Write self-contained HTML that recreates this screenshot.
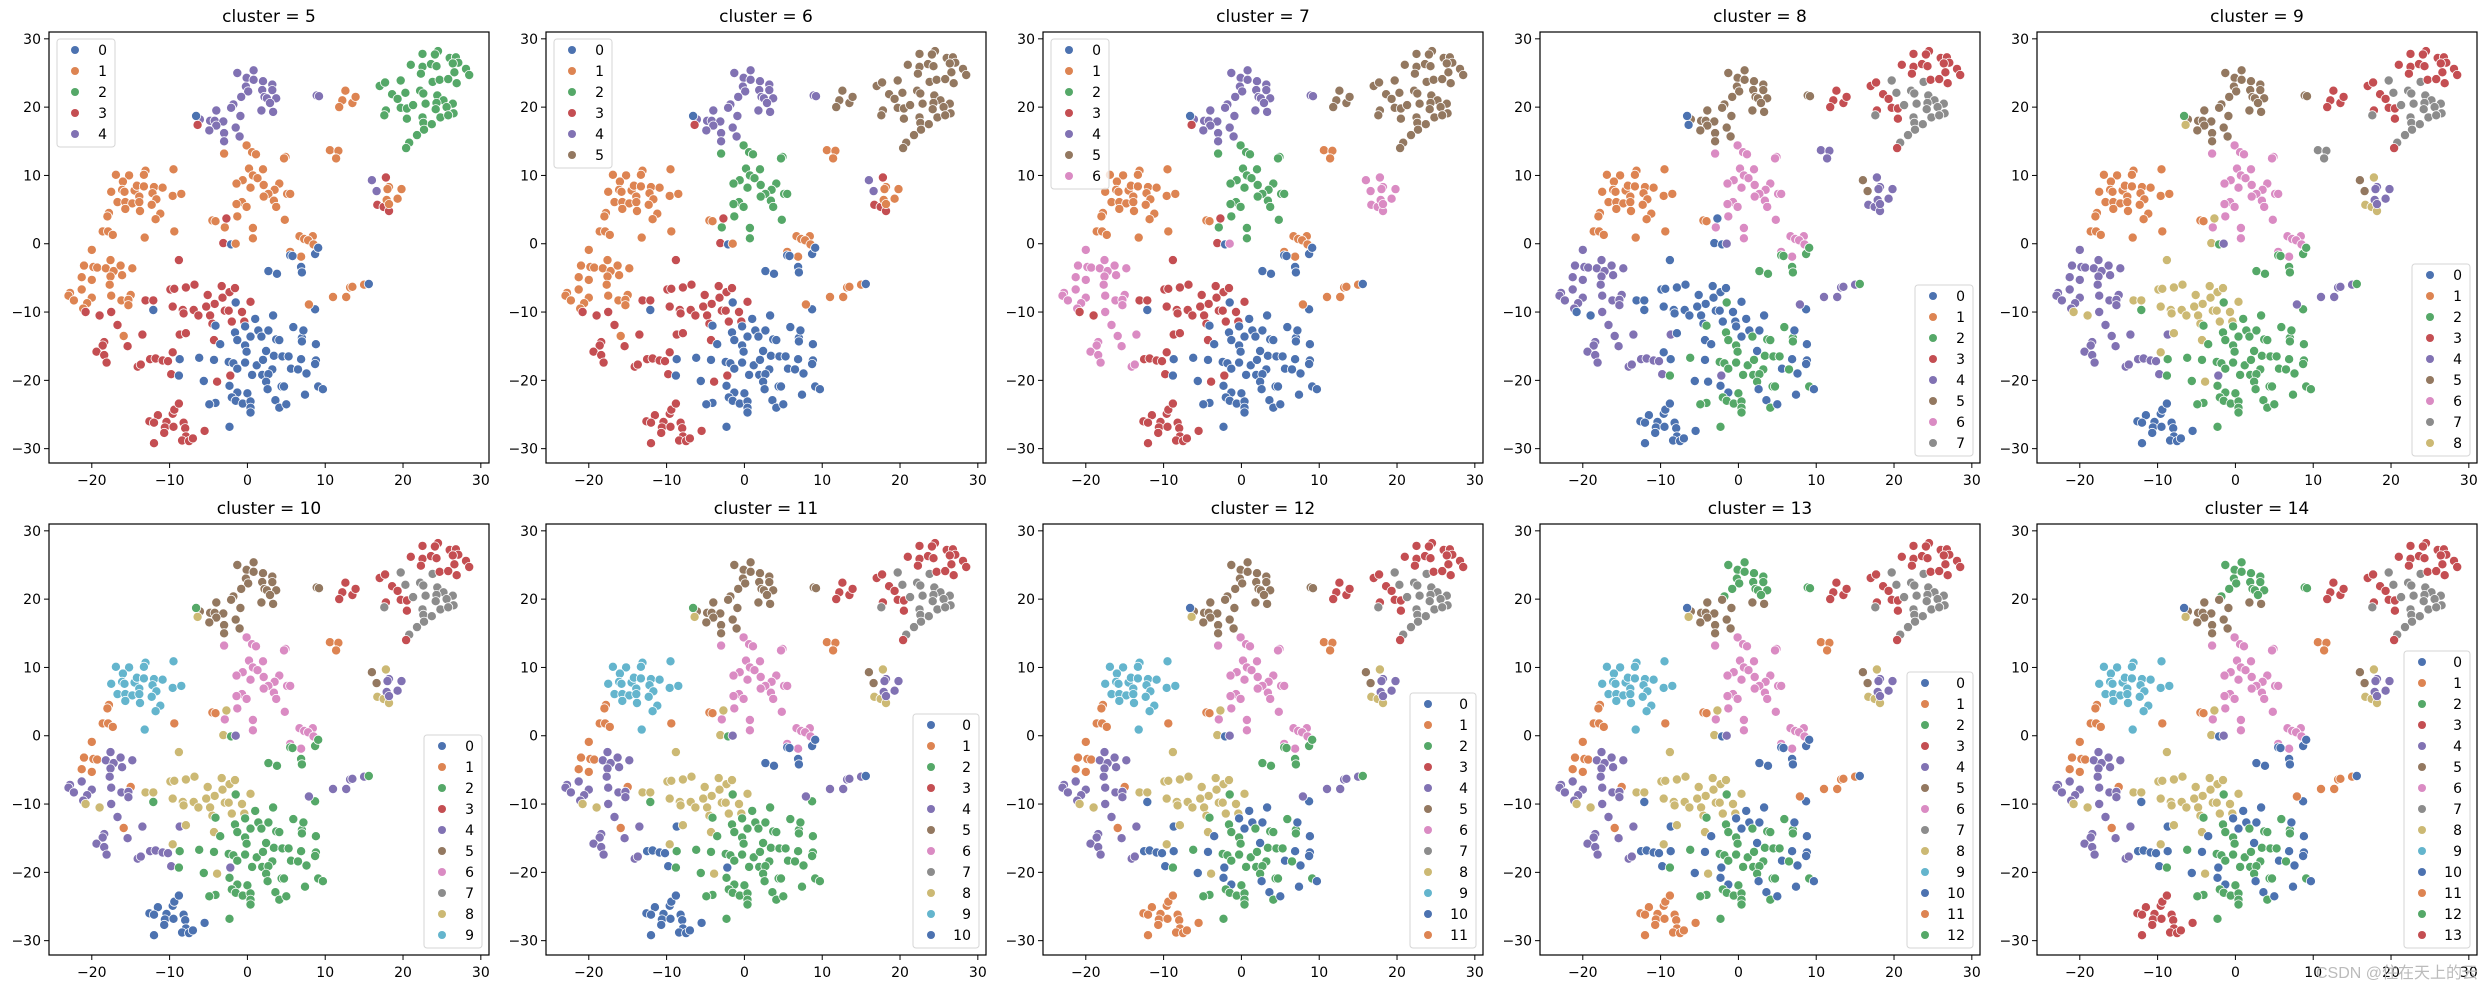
<!DOCTYPE html>
<html><head><meta charset="utf-8"><style>
html,body{margin:0;padding:0;background:#fff;}
svg{display:block;font-family:"DejaVu Sans","Liberation Sans",sans-serif;}
</style></head><body>
<svg id="fig" width="2488" height="989" viewBox="0 0 2488 989" xmlns="http://www.w3.org/2000/svg"></svg>
<script>
// ---- data ----
const clusterCounts = [5,6,7,8,9,10,11,12,13,14];
const xTicks = [-20,-10,0,10,20,30];
const yTicks = [-30,-20,-10,0,10,20,30];
const palette = ['#4c72b0','#dd8452','#55a868','#c44e52','#8172b3','#937860','#da8bc3','#8c8c8c','#ccb974','#64b5cd'];
// region -> cluster id for k = 5..14
const regionLabels = {
 TRr:[2,5,5,3,3,3,3,3,3,3], TRg:[2,5,5,7,7,7,7,7,7,7], B:[1,5,5,3,3,3,3,3,3,3],
 Cg:[4,4,4,5,5,5,5,5,2,2], Cb:[4,4,4,5,5,5,5,5,5,5], D:[1,2,2,6,6,6,6,6,6,6], D2:[1,1,1,6,6,6,6,6,6,6],
 E:[1,1,1,1,1,9,9,9,9,9], Fo1:[1,1,1,1,1,1,1,1,1,1], Fo2:[1,1,6,4,4,1,1,1,1,1],
 Fp:[1,1,6,4,4,4,4,4,4,4], Fq:[3,3,6,4,4,4,4,4,4,4], G:[3,3,3,0,8,8,8,8,8,8],
 Hb:[0,0,0,0,2,2,2,10,10,10], Hg:[0,0,0,2,2,2,2,2,12,12], I:[3,3,3,0,0,0,10,11,11,13],
 K:[0,0,0,2,2,2,10,2,10,10], M:[3,3,3,4,4,4,10,10,10,10], J1:[4,4,6,5,5,5,5,5,5,5],
 J2:[3,3,6,4,8,8,8,8,8,8], J3:[1,1,6,4,4,4,4,4,4,4], L:[1,1,1,4,4,4,4,4,11,11], N:[1,1,1,4,7,1,1,1,1,1]
};
const pointsX = [];
const pointsY = [];
const pointsRegion = [];
const raw = [
// top-right
[22.5,27.8,'TRr'],[24.5,28.2,'TRr'],[24.1,27.7,'TRr'],[26.0,27.2,'TRr'],[26.8,27.3,'TRr'],[27.1,26.5,'TRr'],[26.4,26.4,'TRr'],[28.1,25.6,'TRr'],[28.5,24.7,'TRr'],[21.0,26.2,'TRr'],[22.5,25.9,'TRr'],[23.6,26.3,'TRr'],[24.3,26.0,'TRr'],[22.3,24.9,'TRr'],[26.6,25.1,'TRr'],[23.8,23.7,'TRg'],[24.7,24.0,'TRr'],[25.8,24.1,'TRr'],[26.9,23.5,'TRr'],[17.0,23.1,'TRr'],[17.7,23.6,'TRr'],[19.7,23.9,'TRg'],[18.6,21.9,'TRr'],[19.3,21.2,'TRr'],[20.3,22.1,'TRg'],[22.2,22.4,'TRg'],[22.6,22.0,'TRg'],[24.4,21.7,'TRg'],[25.2,21.0,'TRg'],[26.4,20.5,'TRg'],[22.9,20.5,'TRg'],[24.3,20.6,'TRg'],[17.8,19.5,'TRr'],[17.6,18.8,'TRg'],[19.7,19.9,'TRr'],[20.5,19.8,'TRr'],[21.3,20.3,'TRg'],[24.2,19.7,'TRg'],[25.6,20.0,'TRg'],[26.5,19.1,'TRg'],[22.5,18.5,'TRg'],[24.8,18.5,'TRg'],[25.8,18.8,'TRg'],[20.5,18.3,'TRr'],[22.6,17.7,'TRg'],[23.7,17.5,'TRg'],[22.7,16.7,'TRg'],[21.8,15.9,'TRg'],[20.8,14.8,'TRg'],[20.4,14.0,'TRr'],
[12.6,22.4,'B'],[12.2,21.0,'B'],[11.8,20.0,'B'],[13.5,20.6,'B'],[13.9,21.5,'B'],[8.9,21.7,'Cg'],[9.2,21.6,'Cg'],
// top purple
[-1.3,25.0,'Cg'],[0.8,25.4,'Cg'],[-0.1,24.3,'Cg'],[0.8,24.0,'Cg'],[-0.2,23.0,'Cg'],[0.1,22.3,'Cg'],[2.0,23.8,'Cg'],[3.2,23.3,'Cg'],[1.9,22.5,'Cg'],[3.2,22.5,'Cg'],[2.2,21.5,'Cg'],[2.5,21.3,'Cg'],[3.7,21.3,'Cg'],[2.9,20.6,'Cg'],[-0.8,21.5,'Cg'],[-1.8,20.4,'Cg'],[-2.1,19.9,'Cb'],[-4.0,19.5,'Cb'],[1.8,19.5,'Cb'],[3.3,19.3,'Cb'],[-0.9,18.7,'Cb'],[-4.8,18.0,'Cb'],[-4.2,18.0,'Cb'],[-3.1,17.9,'Cb'],[-4.0,17.3,'Cb'],[-1.5,17.0,'Cb'],[-4.9,16.6,'Cb'],[-3.0,16.2,'Cb'],[-1.0,15.7,'Cb'],[-3.0,15.0,'Cb'],[-6.1,18.2,'Cb'],[-6.6,18.7,'Hb'],[-6.4,17.4,'G'],
// pink mid
[-0.1,14.4,'D'],[0.6,13.4,'D'],[-3.0,13.2,'D'],[1.1,13.1,'D'],[4.9,12.7,'D'],[4.7,12.5,'D'],[0.2,11.0,'D'],[2.0,10.9,'D'],[0.7,10.0,'D'],[-0.6,9.3,'D'],[1.3,9.6,'D'],[-1.4,8.8,'D'],[4.1,8.8,'D'],[2.1,8.6,'D'],[0.4,8.2,'D'],[3.5,7.9,'D'],[5.1,7.3,'D'],[5.5,7.3,'D'],[2.7,7.3,'D'],[2.1,6.9,'D'],[3.4,6.3,'D'],[3.7,5.4,'D'],[-0.7,6.1,'D'],[-1.4,5.8,'D'],[-0.1,5.4,'D'],[4.8,3.5,'D'],[0.7,2.3,'D'],[-1.3,4.0,'D'],[-2.9,2.4,'D'],[0.7,0.8,'D'],
[6.7,1.1,'D2'],[7.3,0.7,'D2'],[8.4,1.1,'D2'],[7.8,0.5,'D2'],[8.5,-0.1,'D2'],[5.5,-1.2,'D2'],[6.9,-1.9,'D2'],
[-4.5,3.4,'Fo1'],[-4.1,3.3,'Fo1'],[-2.7,3.7,'G'],[-3.1,0.1,'G'],[-2.1,-0.1,'Hb'],[-1.5,0.0,'Fp'],
// cyan group
[-16.9,10.1,'E'],[-15.2,10.0,'E'],[-13.1,10.7,'E'],[-13.3,10.1,'E'],[-16.0,9.1,'E'],[-17.5,7.6,'E'],[-16.1,7.9,'E'],[-15.8,7.6,'E'],[-14.5,7.8,'E'],[-14.2,8.5,'E'],[-13.3,8.4,'E'],[-12.0,8.3,'E'],[-10.9,8.2,'E'],[-12.2,7.4,'E'],[-11.7,6.5,'E'],[-13.9,6.9,'E'],[-16.7,6.1,'E'],[-15.7,6.1,'E'],[-14.8,5.9,'E'],[-13.9,6.1,'E'],[-12.3,5.7,'E'],[-15.7,5.1,'E'],[-13.8,4.8,'E'],[-11.2,4.4,'E'],[-11.8,3.6,'E'],[-9.5,10.9,'E'],[-9.6,7.0,'E'],[-8.5,7.3,'E'],[-13.2,0.9,'E'],
// far-left
[-17.8,4.5,'Fo1'],[-18.0,4.0,'Fo1'],[-18.6,1.8,'Fo1'],[-17.9,1.8,'Fo1'],[-17.3,1.3,'Fo1'],[-9.4,1.8,'Fo1'],[-20.0,-0.9,'Fo2'],[-21.0,-3.2,'Fo2'],[-19.8,-3.4,'Fo2'],[-19.3,-3.5,'Fo2'],[-21.3,-4.9,'Fo2'],[-20.0,-5.3,'Fo2'],[-15.0,-7.5,'Fo2'],[-15.9,-13.5,'Fo2'],
[-22.8,-7.2,'Fp'],[-23.0,-7.6,'Fp'],[-22.3,-8.3,'Fp'],[-21.3,-6.7,'Fp'],[-20.0,-7.9,'Fp'],[-20.6,-8.7,'Fp'],[-21.1,-9.5,'Fp'],[-17.6,-2.4,'Fp'],[-18.2,-3.6,'Fp'],[-17.2,-4.0,'Fp'],[-16.3,-3.2,'Fp'],[-16.1,-4.6,'Fp'],[-14.8,-3.6,'Fp'],[-17.6,-4.8,'Fp'],[-17.7,-6.0,'Fp'],[-17.5,-7.6,'Fp'],[-16.2,-8.3,'Fp'],[-15.3,-8.2,'Fp'],[-15.3,-9.0,'Fp'],[-17.5,-10.0,'Fq'],[-16.7,-11.9,'Fq'],[-18.4,-14.4,'Fq'],[-18.6,-14.9,'Fq'],[-19.4,-15.8,'Fq'],[-18.4,-16.3,'Fq'],[-18.1,-17.4,'Fq'],[-15.4,-15.0,'Fq'],[-13.5,-13.3,'Fq'],[-14.1,-18.0,'Fq'],[-13.7,-17.7,'Fq'],
[-12.5,-16.9,'M'],[-11.8,-16.8,'M'],[-10.9,-17.1,'M'],[-10.2,-17.2,'M'],[-9.8,-19.1,'M'],[-8.7,-13.3,'M'],[-2.2,-19.3,'M'],
// yellow middle
[-8.8,-2.4,'G'],[-9.9,-6.7,'G'],[-9.4,-6.6,'G'],[-7.9,-6.4,'G'],[-6.8,-6.0,'G'],[-13.1,-8.3,'G'],[-12.1,-8.3,'G'],[-9.6,-9.2,'G'],[-8.3,-9.7,'G'],[-8.2,-10.2,'G'],[-6.9,-9.7,'G'],[-6.3,-10.5,'G'],[-5.1,-7.5,'G'],[-3.3,-6.2,'G'],[-2.3,-7.1,'G'],[-1.6,-6.5,'G'],[-3.2,-7.9,'G'],[-4.2,-8.8,'G'],[-5.3,-9.2,'G'],[-4.8,-10.5,'G'],[-4.5,-11.7,'G'],[-2.9,-9.8,'G'],[-2.4,-9.8,'G'],[-2.0,-11.4,'G'],[-0.7,-10.0,'G'],[-0.4,-11.4,'G'],[0.4,-8.5,'G'],[-7.9,-13.1,'G'],[-4.3,-14.1,'G'],[-9.6,-15.9,'G'],[-3.9,-20.2,'G'],[-20.8,-10.0,'G'],[-19.0,-10.5,'G'],
// lower green/blue
[-1.5,-8.6,'Hg'],[-12.1,-9.7,'Hb'],[-4.1,-12.0,'Hg'],[-1.6,-13.0,'Hg'],[-1.3,-14.1,'Hg'],[-0.3,-12.1,'Hb'],[1.0,-11.0,'Hb'],[3.3,-10.5,'Hb'],[1.4,-12.7,'Hb'],[2.7,-12.7,'Hb'],[0.4,-13.6,'Hb'],[1.8,-13.6,'Hg'],[-0.3,-14.9,'Hg'],[-0.1,-15.8,'Hg'],[-3.5,-14.7,'Hb'],[-6.2,-16.7,'Hg'],[-4.3,-17.0,'Hb'],[-8.7,-16.9,'Hb'],[-8.8,-19.3,'Hg'],[-2.4,-17.3,'Hg'],[-1.8,-17.5,'Hg'],[-1.3,-18.3,'Hg'],[-0.3,-17.4,'Hg'],[1.2,-17.8,'Hg'],[2.0,-17.0,'Hg'],[2.4,-15.7,'Hb'],[3.4,-16.4,'Hg'],[4.5,-16.5,'Hg'],[5.3,-16.5,'Hg'],[3.2,-18.4,'Hg'],[5.6,-18.3,'Hb'],[6.5,-18.4,'Hg'],[7.6,-19.0,'Hb'],[6.9,-16.9,'Hb'],[8.8,-17.1,'Hb'],[8.7,-17.6,'Hb'],[8.8,-14.7,'Hb'],[7.0,-13.8,'Hg'],[7.0,-14.3,'Hg'],[5.9,-12.2,'Hg'],[7.2,-12.7,'Hb'],[3.7,-14.0,'Hg'],[4.1,-14.1,'Hg'],[0.6,-19.2,'Hg'],[1.9,-19.2,'Hg'],[2.7,-19.1,'Hg'],[2.4,-20.2,'Hg'],[2.6,-21.3,'Hb'],[4.4,-20.9,'Hg'],[4.7,-20.9,'Hg'],[9.1,-20.9,'Hg'],[9.7,-21.3,'Hb'],[7.4,-22.1,'Hb'],[-2.3,-20.8,'Hb'],[-1.3,-21.8,'Hb'],[0.0,-21.9,'Hg'],[-2.0,-22.5,'Hg'],[-1.5,-23.0,'Hg'],[-0.6,-23.4,'Hg'],[0.4,-23.1,'Hg'],[0.4,-24.0,'Hg'],[0.4,-24.7,'Hg'],[3.6,-22.9,'Hb'],[4.1,-24.0,'Hg'],[5.0,-23.5,'Hb'],[-5.6,-20.1,'Hb'],[-4.1,-23.3,'Hg'],[-4.9,-23.5,'Hg'],[8.7,-9.6,'Hb'],[-2.3,-26.8,'Hg'],[7.9,-8.9,'L'],
[5.5,-1.7,'K'],[5.8,-1.8,'K'],[6.9,-3.4,'K'],[7.0,-4.2,'K'],[8.7,-1.5,'K'],[9.1,-0.6,'K'],[2.7,-4.0,'K'],[3.8,-4.4,'K'],
// bottom cluster
[-12.6,-26.0,'I'],[-11.5,-25.1,'I'],[-12.0,-26.2,'I'],[-10.4,-26.1,'I'],[-10.6,-26.9,'I'],[-10.7,-27.7,'I'],[-9.5,-26.8,'I'],[-9.6,-24.9,'I'],[-9.4,-24.3,'I'],[-8.8,-23.4,'I'],[-8.2,-26.2,'I'],[-8.0,-27.0,'I'],[-7.9,-28.2,'I'],[-8.4,-28.8,'I'],[-7.5,-28.9,'I'],[-7.0,-28.5,'I'],[-5.5,-27.4,'I'],[-12.0,-29.2,'I'],
// right small
[16.0,9.3,'J1'],[16.6,7.7,'J1'],[17.8,9.7,'J2'],[18.2,8.3,'J3'],[18.0,8.0,'J3'],[19.8,8.0,'J3'],[16.7,5.7,'J2'],[17.5,5.4,'J2'],[18.2,4.8,'J2'],[17.9,6.4,'J3'],[18.2,5.8,'J3'],[19.3,6.6,'J3'],
[11.0,-7.8,'L'],[12.7,-7.8,'L'],[13.2,-6.4,'L'],[13.5,-6.3,'L'],[15.0,-6.0,'L'],[15.6,-5.9,'K'],
[10.6,13.7,'N'],[11.7,13.6,'N'],[11.4,12.5,'N']
];
raw.forEach(p=>{pointsX.push(p[0]);pointsY.push(p[1]);pointsRegion.push(p[2]);});

// ---- layout ----
const NS='http://www.w3.org/2000/svg';
const svg=document.getElementById('fig');
const AXW=440, AXH=431, XMIN=-25.5, XMAX=31.05, YMIN=-32.1, YMAX=31.0;
function mk(tag,attrs,parent){const e=document.createElementNS(NS,tag);for(const k in attrs)e.setAttribute(k,attrs[k]);(parent||svg).appendChild(e);return e;}

clusterCounts.forEach((k,pi)=>{
  const col=pi%5,row=Math.floor(pi/5);
  const L=49+497*col, T=32+492*row;
  const sx=v=>L+(v-XMIN)/(XMAX-XMIN)*AXW;
  const sy=v=>T+(YMAX-v)/(YMAX-YMIN)*AXH;
  const g=mk('g',{});
  
  
  const title=mk('text',{x:L+AXW/2,y:T-10,'text-anchor':'middle','font-size':'17','fill':'#000'},g);
  title.textContent='cluster = '+k;
  
  
  // ticks
  xTicks.forEach(t=>{
    const x=sx(t);
    mk('line',{x1:x,x2:x,y1:T+AXH,y2:T+AXH+5,stroke:'#000','stroke-width':1},g);
    const tx=mk('text',{x:x,y:T+AXH+22,'text-anchor':'middle','font-size':'14',fill:'#000'},g);
    tx.textContent=(t<0?'\u2212':'')+Math.abs(t);
    
    
  });
  yTicks.forEach(t=>{
    const y=sy(t);
    mk('line',{x1:L-5,x2:L,y1:y,y2:y,stroke:'#000','stroke-width':1},g);
    const ty=mk('text',{x:L-8,y:y+5,'text-anchor':'end','font-size':'14',fill:'#000'},g);
    ty.textContent=(t<0?'\u2212':'')+Math.abs(t);
    
    
  });
  // points
  const pg=mk('g',{},g);
  
  
  for(let i=0;i<pointsX.length;i++){
    const lab=regionLabels[pointsRegion[i]][pi];
    const c=mk('circle',{cx:sx(pointsX[i]).toFixed(1),cy:sy(pointsY[i]).toFixed(1),r:4.6,fill:palette[lab%10],stroke:'#fff','stroke-width':0.8},pg);
    
    
  }
  // frame
  const fr=mk('rect',{x:L,y:T,width:AXW,height:AXH,fill:'none',stroke:'#000','stroke-width':1.2},g);
  
  
  // legend
  const lw=k>10?66:58, lh=k*21+3;
  const upper=k<=7;
  const lx=upper?L+8:L+AXW-7-lw, ly=upper?T+7:T+AXH-7-lh;
  const lg=mk('g',{},g);
  
  
  mk('rect',{x:lx,y:ly,width:lw,height:lh,rx:3,fill:'#fff','fill-opacity':0.8,stroke:'#d6d6d6','stroke-width':1},lg);
  for(let j=0;j<k;j++){
    const ey=ly+11+j*21;
    const e=mk('g',{},lg);
    
    
    mk('circle',{cx:lx+18,cy:ey,r:4,fill:palette[j%10]},e);
    const t=mk('text',{x:lx+lw-8,y:ey+5,'text-anchor':'end','font-size':'14',fill:'#000'},e);
    t.textContent=j;
  }
});
const wm=mk('text',{x:2478,y:978,'text-anchor':'end','font-size':'16',fill:'#bbb','font-family':'"Liberation Sans","Noto Sans CJK SC",sans-serif'});
wm.textContent='CSDN @住在天上的云';


</script>
</body></html>
